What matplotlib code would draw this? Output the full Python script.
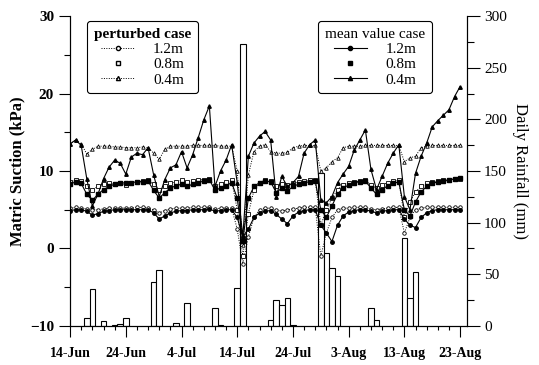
import matplotlib.pyplot as plt
from matplotlib.lines import Line2D
import numpy as np

plt.rcParams['font.family'] = ['Liberation Serif', 'DejaVu Serif']

# days counted from 14-Jun
days = np.arange(71)
tick_days = [0, 10, 20, 30, 40, 50, 60, 70]
tick_labels = ['14-Jun', '24-Jun', '4-Jul', '14-Jul', '24-Jul', '3-Aug', '13-Aug', '23-Aug']

# daily rainfall (mm)
rain_days = [3, 4, 6, 8, 9, 10, 15, 16, 19, 21, 26, 27, 30, 31,
             36, 37, 38, 39, 40, 45, 46, 47, 48, 54, 55, 60, 61, 62]
rain_mm = [8, 36, 4.5, 1, 2, 8, 43, 54, 3, 22.5, 17, 1, 37, 273,
           6, 25, 20, 27.5, 1, 148, 71, 56.5, 48.7, 17.7, 6, 85, 27, 52.5]

# matric suction (kPa), mean value case
mean_12 = [4.9, 5.0, 5.0, 4.8, 4.3, 4.5, 4.8, 4.9, 5.0, 5.0,
           5.0, 5.0, 5.0, 5.0, 5.0, 4.6, 3.8, 4.2, 4.6, 4.8,
           4.9, 4.9, 5.0, 5.0, 5.0, 5.1, 4.8, 4.9, 5.0, 5.0,
           4.0, 1.5, 2.5, 4.0, 4.6, 4.8, 4.9, 4.4, 3.8, 3.2,
           4.2, 4.7, 4.9, 5.0, 5.0, 3.0, 2.0, 0.9, 3.0, 4.2,
           4.7, 4.9, 5.0, 5.0, 4.8, 4.6, 4.8, 4.9, 5.0, 5.0,
           3.8, 3.0, 2.7, 4.0, 4.6, 4.9, 5.0, 5.0, 5.0, 5.0, 5.0]
mean_08 = [8.3, 8.6, 8.4, 7.0, 6.2, 7.0, 7.6, 8.0, 8.3, 8.4,
           8.5, 8.5, 8.6, 8.6, 8.7, 7.5, 6.5, 7.2, 7.8, 8.1,
           8.3, 8.0, 8.3, 8.5, 8.7, 8.9, 7.5, 7.8, 8.1, 8.5,
           6.5, 1.0, 6.5, 8.0, 8.5, 8.7, 8.6, 7.2, 7.8, 7.4,
           8.0, 8.3, 8.5, 8.6, 8.7, 5.0, 4.0, 5.5, 7.0, 7.8,
           8.2, 8.5, 8.6, 8.7, 7.8, 7.0, 7.6, 8.1, 8.4, 8.6,
           5.0, 4.2, 6.0, 7.3, 8.0, 8.4, 8.6, 8.7, 8.8, 9.0, 9.1]
mean_04 = [13.5, 14.0, 13.3, 9.0, 5.5, 7.0, 9.0, 10.5, 11.4, 11.0,
           9.6, 11.8, 12.3, 12.1, 13.0, 9.5, 6.7, 8.9, 10.4, 10.8,
           12.5, 10.4, 12.1, 14.3, 16.6, 18.4, 8.0, 10.0, 11.4, 13.4,
           8.5, 1.5, 11.9, 13.6, 14.5, 15.1, 14.0, 6.7, 9.3, 8.0,
           8.5, 9.3, 12.3, 13.4, 14.0, 6.3, 5.9, 6.7, 8.5, 9.6,
           10.6, 12.7, 14.0, 15.3, 10.2, 7.6, 9.3, 11.0, 12.3, 13.4,
           6.7, 5.0, 9.7, 11.9, 13.6, 15.7, 16.5, 17.2, 17.9, 19.6, 20.9]

# matric suction (kPa), perturbed case
pert_12 = [5.2, 5.3, 5.2, 5.1, 5.0, 5.0, 5.1, 5.2, 5.2, 5.2,
           5.2, 5.2, 5.3, 5.3, 5.2, 5.0, 4.6, 4.9, 5.1, 5.2,
           5.2, 5.2, 5.3, 5.3, 5.3, 5.3, 5.1, 5.2, 5.2, 5.2,
           2.5, -2.0, 1.5, 4.0, 5.0, 5.2, 5.2, 5.0, 4.8, 5.0,
           5.1, 5.2, 5.3, 5.3, 5.3, -1.0, 2.0, 4.0, 5.0, 5.2,
           5.2, 5.3, 5.3, 5.3, 5.1, 5.0, 5.1, 5.2, 5.3, 5.3,
           2.0, 4.0, 5.0, 5.2, 5.3, 5.3, 5.3, 5.3, 5.3, 5.3, 5.3]
pert_08 = [8.6, 8.8, 8.7, 8.0, 7.6, 8.0, 8.3, 8.4, 8.3, 8.4,
           8.2, 8.5, 8.6, 8.7, 8.8, 8.3, 7.5, 8.0, 8.4, 8.6,
           8.8, 8.6, 8.7, 8.8, 8.9, 9.0, 8.0, 8.3, 8.6, 8.8,
           5.0, -1.0, 4.5, 7.5, 8.5, 8.8, 8.7, 8.0, 8.3, 8.2,
           8.4, 8.6, 8.7, 8.8, 8.8, 3.0, 5.0, 6.5, 7.6, 8.2,
           8.5, 8.6, 8.7, 8.8, 8.2, 7.8, 8.2, 8.5, 8.7, 8.8,
           4.0, 6.0, 7.3, 8.0, 8.4, 8.6, 8.7, 8.8, 8.9, 9.0, 9.0]
pert_04 = [13.5, 14.0, 13.5, 12.2, 12.8, 13.2, 13.2, 13.2, 13.1, 13.1,
           13.0, 13.0, 13.0, 13.1, 13.0, 12.3, 11.5, 12.8, 13.2, 13.2,
           13.2, 13.2, 13.3, 13.3, 13.3, 13.3, 13.3, 13.2, 13.2, 13.2,
           10.0, 0.5, 9.5, 12.5, 13.2, 13.4, 12.5, 12.3, 12.3, 12.4,
           13.0, 13.2, 13.3, 13.3, 13.3, 10.0, 10.4, 11.2, 11.7, 13.0,
           13.2, 13.2, 13.2, 13.3, 13.3, 13.3, 13.3, 13.3, 13.3, 13.3,
           11.2, 11.7, 11.9, 13.0, 13.2, 13.3, 13.3, 13.3, 13.3, 13.3, 13.3]

fig = plt.figure(figsize=(5.39, 3.65), dpi=100)
ax = fig.add_axes([0.13, 0.107, 0.736, 0.849])
ax2 = ax.twinx()

# rainfall bars behind the suction curves
ax2.bar(rain_days, rain_mm, width=1.0, facecolor='white', edgecolor='black', linewidth=0.8)
ax.set_zorder(ax2.get_zorder() + 1)
ax.patch.set_visible(False)

dot = (0, (1, 1.5))
ms = 2.5
ax.plot(days, pert_12, linestyle=dot, color='black', lw=0.7, marker='o', ms=ms, mfc='white', mew=0.6)
ax.plot(days, pert_08, linestyle=dot, color='black', lw=0.7, marker='s', ms=ms, mfc='white', mew=0.6)
ax.plot(days, pert_04, linestyle=dot, color='black', lw=0.7, marker='^', ms=ms, mfc='white', mew=0.6)
ax.plot(days, mean_12, '-', color='black', lw=0.8, marker='o', ms=ms)
ax.plot(days, mean_08, '-', color='black', lw=0.8, marker='s', ms=ms)
ax.plot(days, mean_04, '-', color='black', lw=0.8, marker='^', ms=ms)

ax.set_xlim(0, 71.2)
ax.set_ylim(-10, 30)
ax2.set_ylim(0, 300)

ax.set_xticks(tick_days)
ax.set_xticklabels(tick_labels, fontweight='bold', fontsize=10)
ax.set_xticks(np.arange(0, 72, 2), minor=True)
ax.set_yticks([-10, 0, 10, 20, 30])
ax.set_yticks([-5, 5, 15, 25], minor=True)
ax.tick_params(axis='y', which='major', labelsize=11, length=8, width=0.8)
ax.tick_params(axis='y', which='minor', length=4, width=0.8)
ax.tick_params(axis='x', which='major', length=8, width=0.8, pad=7)
ax.tick_params(axis='x', which='minor', length=3, width=0.8)
for lab in ax.get_yticklabels():
    lab.set_fontweight('bold')

ax2.set_yticks([0, 50, 100, 150, 200, 250, 300])
ax2.set_yticks([25, 75, 125, 175, 225, 275], minor=True)
ax2.tick_params(axis='y', which='major', labelsize=11, length=9, width=0.8)
ax2.tick_params(axis='y', which='minor', length=5, width=0.8)

for a in (ax, ax2):
    a.spines['top'].set_visible(False)
    for s in ('left', 'right', 'bottom'):
        a.spines[s].set_linewidth(0.8)

ax.set_ylabel('Matric Suction (kPa)', fontweight='bold', fontsize=12, labelpad=3)
ax2.set_ylabel('Daily Rainfall (mm)', fontsize=12, rotation=270, labelpad=15)

pert_handles = [
    Line2D([], [], linestyle=dot, color='black', lw=0.7, marker='o', ms=3, mfc='white'),
    Line2D([], [], linestyle='none', color='black', marker='s', ms=3.5, mfc='white'),
    Line2D([], [], linestyle=dot, color='black', lw=0.7, marker='^', ms=3, mfc='white'),
]
mean_handles = [
    Line2D([], [], linestyle='-', color='black', lw=0.8, marker='o', ms=3),
    Line2D([], [], linestyle='none', color='black', marker='s', ms=3.5),
    Line2D([], [], linestyle='-', color='black', lw=0.8, marker='^', ms=3),
]
depths = ['1.2m', '0.8m', '0.4m']

leg_style = dict(borderaxespad=0, fontsize=11, title_fontsize=11,
                 handlelength=2.2, labelspacing=0.1, borderpad=0.45,
                 handletextpad=1.2, fancybox=True, edgecolor='black',
                 framealpha=1)
leg1 = ax.legend(pert_handles, depths, title='perturbed case', loc='upper left',
                 bbox_to_anchor=(0.043, 0.984), **leg_style)
leg1.get_title().set_fontweight('bold')
leg1.get_frame().set_linewidth(0.8)
ax.add_artist(leg1)
leg2 = ax.legend(mean_handles, depths, title='mean value case', loc='upper right',
                 bbox_to_anchor=(0.912, 0.984), **leg_style)
leg2.get_frame().set_linewidth(0.8)

fig.savefig('out.png', dpi=100)
